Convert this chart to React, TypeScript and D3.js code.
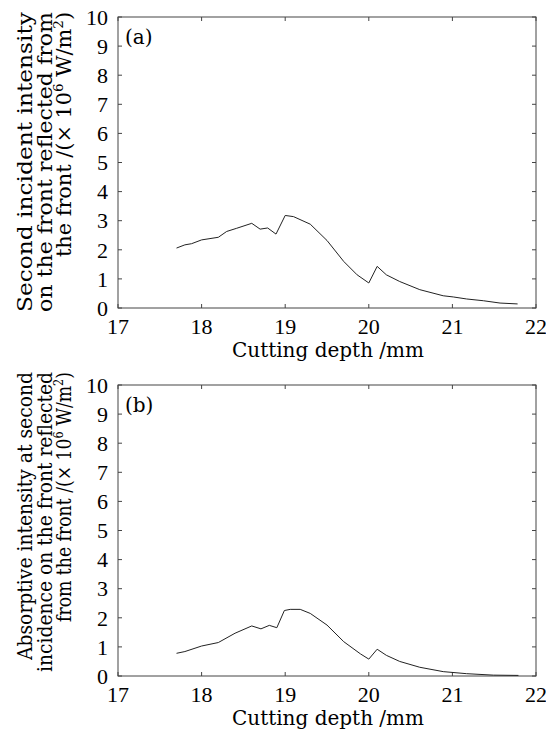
import React from 'react';
import * as d3 from 'd3';

// cutting depth (mm) and intensity (x10^6 W/m^2)
const depthA = [17.7, 17.8, 17.88, 18.0, 18.2, 18.3, 18.42, 18.6, 18.7, 18.79, 18.89, 19.0, 19.1, 19.3, 19.5, 19.7, 19.86, 20.0, 20.1, 20.21, 20.37, 20.61, 20.89, 21.01, 21.17, 21.37, 21.57, 21.78];
const intensityA = [2.06, 2.17, 2.21, 2.34, 2.43, 2.63, 2.74, 2.91, 2.71, 2.75, 2.54, 3.18, 3.14, 2.88, 2.32, 1.6, 1.14, 0.86, 1.43, 1.14, 0.91, 0.63, 0.42, 0.38, 0.31, 0.25, 0.17, 0.14];

const depthB = [17.7, 17.8, 18.0, 18.2, 18.4, 18.6, 18.71, 18.81, 18.9, 18.99, 19.06, 19.18, 19.3, 19.5, 19.7, 19.9, 20.0, 20.1, 20.21, 20.37, 20.61, 20.89, 21.17, 21.49, 21.79];
const intensityB = [0.78, 0.84, 1.03, 1.15, 1.47, 1.72, 1.62, 1.74, 1.66, 2.25, 2.29, 2.29, 2.15, 1.75, 1.18, 0.76, 0.58, 0.92, 0.71, 0.5, 0.3, 0.15, 0.08, 0.03, 0.02];

const xTicks = [17, 18, 19, 20, 21, 22];
const yTicks = [0, 1, 2, 3, 4, 5, 6, 7, 8, 9, 10];

const titleA = ['Second incident intensity', 'on the front reflected from', 'the front /('];
const titleB = ['Absorptive intensity at second', 'incidence on the front reflected', 'from the front /('];

const W = 546;
const H = 729;
const left = 118;
const right = 536;
const plotH = 291;
const tick = 4;
const titleFont = '"DejaVu Serif", serif';
const tickFont = '"Liberation Serif", serif';

type PanelProps = { xs: number[]; ys: number[]; top: number; titleEnd: number; titleLen: number[]; title: string[]; tag: string };

function Panel({ xs, ys, top, titleEnd, titleLen, title, tag }: PanelProps) {
  const bottom = top + plotH;
  const x = d3.scaleLinear().domain([17, 22]).range([left, right]);
  const y = d3.scaleLinear().domain([0, 10]).range([bottom, top]);
  const line = d3.line<number>().x((d, i) => x(xs[i])).y((d) => y(d));

  return (
    <g>
      {/* ticks on all four sides, pointing in */}
      {xTicks.map((t) => (
        <g key={'x' + t} stroke="#444" strokeWidth={1}>
          <line x1={x(t)} x2={x(t)} y1={bottom} y2={bottom - tick} />
          <line x1={x(t)} x2={x(t)} y1={top} y2={top + tick} />
        </g>
      ))}
      {yTicks.map((t) => (
        <g key={'y' + t} stroke="#444" strokeWidth={1}>
          <line x1={left} x2={left + tick} y1={y(t)} y2={y(t)} />
          <line x1={right} x2={right - tick} y1={y(t)} y2={y(t)} />
        </g>
      ))}
      <rect x={left} y={top} width={right - left} height={plotH} fill="none" stroke="#444" strokeWidth={1} />

      <path d={line(ys) || ''} fill="none" stroke="#222" strokeWidth={1} />

      {xTicks.map((t) => (
        <text key={'xl' + t} x={x(t)} y={bottom + 26} textAnchor="middle" fontFamily={tickFont} fontSize={22} fill="#000">
          {t}
        </text>
      ))}
      {yTicks.map((t) => (
        <text key={'yl' + t} x={left - 10} y={y(t)} dy="0.35em" textAnchor="end" fontFamily={tickFont} fontSize={22} fill="#000">
          {t}
        </text>
      ))}

      <text x={(left + right) / 2 + 1} y={bottom + 49} textAnchor="middle" fontFamily={titleFont} fontSize={20} fill="#000">
        Cutting depth /mm
      </text>

      {/* the source figure is stretched vertically, so the rotated title runs long */}
      <g transform={`translate(0,${titleEnd}) rotate(-90)`} fontFamily={titleFont} fontSize={20} fill="#000" textAnchor="end">
        <text x={0} y={32} textLength={titleLen[0]} lengthAdjust="spacingAndGlyphs">{title[0]}</text>
        <text x={0} y={52} textLength={titleLen[1]} lengthAdjust="spacingAndGlyphs">{title[1]}</text>
        <text x={0} y={71} textLength={titleLen[2]} lengthAdjust="spacingAndGlyphs">
          {title[2]}
          <tspan>{'\u00d7 10'}</tspan>
          <tspan fontSize={13} dy={-8}>6</tspan>
          <tspan dy={8}>{' W/m'}</tspan>
          <tspan fontSize={13} dy={-8}>2</tspan>
          <tspan dy={8}>)</tspan>
        </text>
      </g>

      <text x={left + 7} y={top + 27} fontFamily={titleFont} fontSize={20} fill="#000">
        {tag}
      </text>
    </g>
  );
}

export default function App() {
  return (
    <svg width={W} height={H} style={{ position: 'absolute', left: 0, top: 0, background: '#fff' }}>
      <rect width={W} height={H} fill="#fff" />
      <Panel xs={depthA} ys={intensityA} top={17} titleEnd={12} titleLen={[300, 300, 245]} title={titleA} tag="(a)" />
      <Panel xs={depthB} ys={intensityB} top={385} titleEnd={372} titleLen={[288, 300, 250]} title={titleB} tag="(b)" />
    </svg>
  );
}
